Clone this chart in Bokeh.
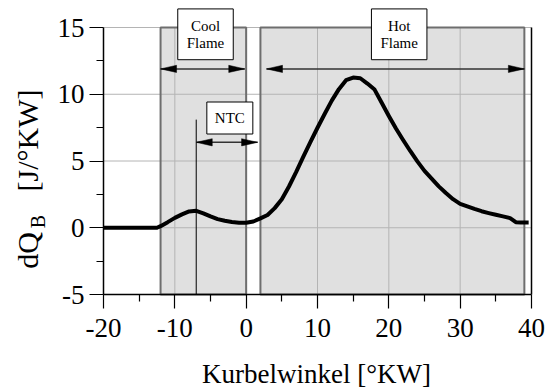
import math
from bokeh.plotting import figure
from bokeh.models import Range1d, Label, FixedTicker
from bokeh.embed import file_html
from bokeh.resources import INLINE

# ---- data ----
crank = [-20, -15, -12.5, -12, -11, -10, -9, -8, -7, -6, -5, -4, -3, -2, -1, 0,
         1, 2, 3, 4, 5, 6, 7, 8, 9, 10, 11, 12, 13, 14, 15, 16, 17, 18, 19, 20,
         21, 22, 23, 24, 25, 26, 27, 28, 29, 30, 31, 32, 33, 34, 35, 36, 37,
         37.8, 38.5, 39.6]
dq = [0.0, 0.0, 0.0, 0.12, 0.42, 0.74, 1.0, 1.22, 1.27, 1.08, 0.85, 0.65, 0.52, 0.43, 0.38, 0.37,
      0.47, 0.7, 0.96, 1.47, 2.13, 3.09, 4.16, 5.31, 6.42, 7.49, 8.52, 9.52, 10.38, 11.05, 11.25, 11.2,
      10.8, 10.35, 9.36, 8.37, 7.43, 6.57, 5.75, 4.97, 4.26, 3.68, 3.1, 2.6, 2.14, 1.79, 1.6, 1.41,
      1.24, 1.1, 0.97, 0.85, 0.72, 0.42, 0.4, 0.4]

x_major = [-20, -10, 0, 10, 20, 30, 40]
x_minor = [-15, -5, 5, 15, 25, 35]
y_major = [-5, 0, 5, 10, 15]
y_minor = [-2.5, 2.5, 7.5, 12.5]
x_title = "Kurbelwinkel [°KW]"
y_title_parts = ["dQ", "B", "[J/°KW]"]

phase_names = ["Cool\nFlame", "Hot\nFlame"]
phase_start = [-12, 2]
phase_end = [0, 39]
phase_arrow_start = [-12, 2.85]
phase_arrow_end = [-0.2, 39]
phase_arrow_y = [11.9, 11.9]
phase_label_x = [-5.7, 21.45]
phase_label_y = [14.49, 14.49]

ntc_line_x = -7
ntc_line_top = 8.1
ntc_arrow = (-7, 1.6, 6.4)
ntc_label = (-2.29, 8.22)

XMIN, XMAX, YMIN, YMAX = -20, 40, -5, 15
W, H = 546, 390
# pixel placement of the axes box inside the canvas
AX_L, AX_R, AX_T, AX_B = 103, 531, 27, 294
px_x = (AX_R - AX_L) / (XMAX - XMIN)
px_y = (AX_B - AX_T) / (YMAX - YMIN)
X0 = XMIN - AX_L / px_x
X1 = XMAX + (W - AX_R) / px_x
Y1 = YMAX + AX_T / px_y
Y0 = YMIN - (H - AX_B) / px_y

FONT = "Liberation Serif"

p = figure(width=W, height=H, x_range=Range1d(X0, X1), y_range=Range1d(Y0, Y1),
           output_backend="svg", toolbar_location=None, min_border=0)
p.outline_line_color = None
p.xgrid.grid_line_color = None
p.ygrid.grid_line_color = None
p.background_fill_color = "white"
p.border_fill_color = "white"

# shaded phase regions
p.quad(left=phase_start, right=phase_end, bottom=[YMIN] * 2, top=[YMAX] * 2,
       fill_color="#e0e0e0", line_color=None)

# grid lines
gx = [v for v in x_major if XMIN < v < XMAX]
p.segment(x0=gx, y0=[YMIN] * len(gx), x1=gx, y1=[YMAX] * len(gx), line_color="#b4b4b4", line_width=1)
gy = [v for v in y_major if v > YMIN]
p.segment(x0=[XMIN] * len(gy), y0=gy, x1=[XMAX] * len(gy), y1=gy, line_color="#b4b4b4", line_width=1)

# region borders
p.quad(left=phase_start, right=phase_end, bottom=[YMIN] * 2, top=[YMAX] * 2,
       fill_color=None, line_color="#6e6e6e", line_width=2)

# right frame line
p.segment(x0=[XMAX], y0=[YMIN], x1=[XMAX], y1=[YMAX], line_color="black", line_width=1.5)

# NTC marker line
p.segment(x0=[ntc_line_x], y0=[YMIN], x1=[ntc_line_x], y1=[ntc_line_top], line_color="black", line_width=1)

# curve
p.line(crank, dq, line_color="black", line_width=4, line_join="round")

# double arrows
HL, HW = 16, 3.6


def double_arrow(xa, xb, y):
    p.segment(x0=[xa], y0=[y], x1=[xb], y1=[y], line_color="#333333", line_width=1.5)
    dx = HL / px_x
    dy = HW / px_y
    p.patches(xs=[[xa, xa + dx, xa + dx], [xb, xb - dx, xb - dx]],
              ys=[[y, y + dy, y - dy], [y, y + dy, y - dy]],
              fill_color="black", line_color="black", line_width=0.5)


for a, b, y in zip(phase_arrow_start, phase_arrow_end, phase_arrow_y):
    double_arrow(a, b, y)
double_arrow(*ntc_arrow)

# boxed labels
for name, lx, ly in zip(phase_names, phase_label_x, phase_label_y):
    p.add_layout(Label(x=lx, y=ly, text=name, text_align="center", text_baseline="middle",
                       text_font=FONT, text_font_size="15px", text_color="black",
                       text_line_height=1.05, padding=9,
                       background_fill_color="white", border_line_color="black", border_line_width=1))
p.add_layout(Label(x=ntc_label[0], y=ntc_label[1], text="NTC", text_align="center", text_baseline="middle",
                   text_font=FONT, text_font_size="15px", text_color="black", padding=8,
                   background_fill_color="white", border_line_color="black", border_line_width=1))

# axes (drawn at fixed data locations)
for ax, maj, mnr in ((p.xaxis, x_major, x_minor), (p.yaxis, y_major, y_minor)):
    ax.ticker = FixedTicker(ticks=maj, minor_ticks=mnr)
    ax.axis_line_color = "black"
    ax.axis_line_width = 1.5
    ax.major_tick_line_color = "black"
    ax.minor_tick_line_color = "black"
    ax.major_tick_line_width = 1.2
    ax.minor_tick_line_width = 1.2
    ax.major_tick_in = 0
    ax.major_tick_out = 14
    ax.minor_tick_in = 0
    ax.minor_tick_out = 7
    ax.major_label_text_font = FONT
    ax.major_label_text_font_size = "27px"
    ax.major_label_text_color = "black"
    ax.major_label_overrides = {v: str(v) for v in maj}
p.xaxis.bounds = (XMIN, XMAX)
p.yaxis.bounds = (YMIN, YMAX)
p.xaxis.fixed_location = YMIN
p.yaxis.fixed_location = XMIN
p.xaxis.major_label_standoff = 10
p.yaxis.major_label_standoff = 5

# axis titles (screen units from the canvas bottom-left)
p.add_layout(Label(x=316, y=H - 373, x_units="screen", y_units="screen", text=x_title,
                   text_align="center", text_baseline="alphabetic", text_font=FONT,
                   text_font_size="27px", text_color="black"))
p.add_layout(Label(x=27, y=H - 250, x_units="screen", y_units="screen", text=y_title_parts[0],
                   angle=math.pi / 2, text_align="center", text_baseline="alphabetic",
                   text_font=FONT, text_font_size="30px", text_color="black"))
p.add_layout(Label(x=37, y=H - 221, x_units="screen", y_units="screen", text=y_title_parts[1],
                   angle=math.pi / 2, text_align="center", text_baseline="alphabetic",
                   text_font=FONT, text_font_size="20px", text_color="black"))
p.add_layout(Label(x=27, y=H - 140, x_units="screen", y_units="screen", text=y_title_parts[2],
                   angle=math.pi / 2, text_align="center", text_baseline="alphabetic",
                   text_font=FONT, text_font_size="30px", text_color="black"))

open("out.html", "w").write(file_html(p, INLINE))
